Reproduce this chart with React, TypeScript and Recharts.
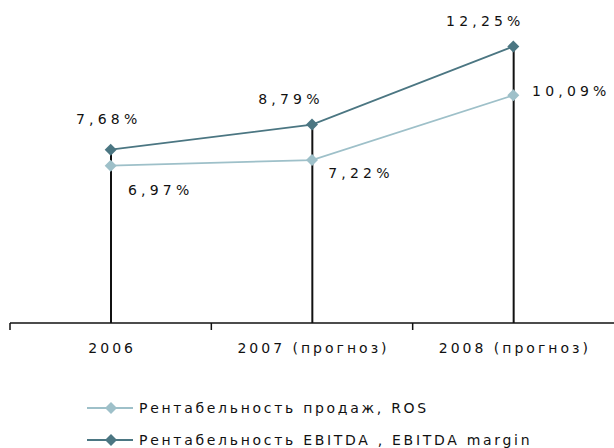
import { ComposedChart, Line, Bar, XAxis, YAxis, LabelList } from 'recharts';

const years = ['2006', '2007 (прогноз)', '2008 (прогноз)'];
const ros = [6.97, 7.22, 10.09];
const ebitda = [7.68, 8.79, 12.25];

const rosName = 'Рентабельность продаж, ROS';
const ebitdaName = 'Рентабельность EBITDA , EBITDA margin';

const data = years.map((y, i) => ({ name: y, ros: ros[i], ebitda: ebitda[i] }));

const DARK = '#4b7682';
const LIGHT = '#9ec0c9';
const FONT = '"DejaVu Sans", Verdana, sans-serif';

const W = 614;
const H = 448;
const LEFT = 10;
const HALF = (W - LEFT) / years.length / 2;

const fmt = (v: number) => v.toFixed(2).replace('.', ',') + '%';

const Diamond = (props: any) => {
    const { cx, cy, fill } = props;
    if (cx == null || cy == null) return null;
    const r = 6;
    return <polygon points={`${cx},${cy - r} ${cx + r},${cy} ${cx},${cy + r} ${cx - r},${cy}`} fill={fill} />;
};

// label offsets per point
const ebitdaOff = [[-2, -31], [-21, -26], [-28, -26]];
const rosOff = [[50, 24], [49, 13], [58, -4]];

const makeLabel = (off: number[][]) => (props: any) => {
    const { x, y, value, index } = props;
    const [dx, dy] = off[index];
    return (
        <text x={x + dx} y={y + dy} textAnchor="middle" dominantBaseline="central"
            fontFamily={FONT} fontSize={14} letterSpacing={4.2} fill="#111">
            {fmt(value)}
        </text>
    );
};

const Tick = (props: any) => {
    const { x, y, payload } = props;
    return (
        <g>
            <line x1={x - HALF} y1={y} x2={x - HALF} y2={y + 7} stroke="#111" strokeWidth={1.5} />
            <text x={x + 1.5} y={y + 30} textAnchor="middle" fontFamily={FONT} fontSize={14} letterSpacing={3} fill="#111">
                {payload.value}
            </text>
        </g>
    );
};

const LegendRow = ({ color, label }: { color: string; label: string }) => (
    <div style={{ display: 'flex', alignItems: 'center', height: 32 }}>
        <svg width={52} height={14}>
            <line x1={0} y1={7} x2={46} y2={7} stroke={color} strokeWidth={2} />
            <polygon points="24,1 30,7 24,13 18,7" fill={color} />
        </svg>
        <span style={{ fontFamily: FONT, fontSize: 14, letterSpacing: 2.7, color: '#111', whiteSpace: 'nowrap' }}>{label}</span>
    </div>
);

export default function App() {
    return (
        <div style={{ position: 'absolute', left: 0, top: 0, width: W, height: H, background: '#fff', overflow: 'hidden' }}>
            <ComposedChart width={W} height={H} data={data}
                margin={{ top: 7, right: 0, left: LEFT, bottom: 85 }}>
                <XAxis dataKey="name" height={40} tickSize={0} tickMargin={0} tickLine={false}
                    axisLine={{ stroke: '#111', strokeWidth: 1.5 }} tick={<Tick />} interval={0} />
                <YAxis hide domain={[0, 14]} />
                <Bar dataKey="ebitda" barSize={2} fill="#111" isAnimationActive={false} legendType="none" />
                <Line dataKey="ros" name={rosName} stroke={LIGHT} strokeWidth={1.8} type="linear"
                    dot={<Diamond fill={LIGHT} />} activeDot={false} isAnimationActive={false}>
                    <LabelList dataKey="ros" content={makeLabel(rosOff)} />
                </Line>
                <Line dataKey="ebitda" name={ebitdaName} stroke={DARK} strokeWidth={1.8} type="linear"
                    dot={<Diamond fill={DARK} />} activeDot={false} isAnimationActive={false}>
                    <LabelList dataKey="ebitda" content={makeLabel(ebitdaOff)} />
                </Line>
            </ComposedChart>
            <div style={{ position: 'absolute', left: 87, top: 392 }}>
                <LegendRow color={LIGHT} label={rosName} />
                <LegendRow color={DARK} label={ebitdaName} />
            </div>
        </div>
    );
}
